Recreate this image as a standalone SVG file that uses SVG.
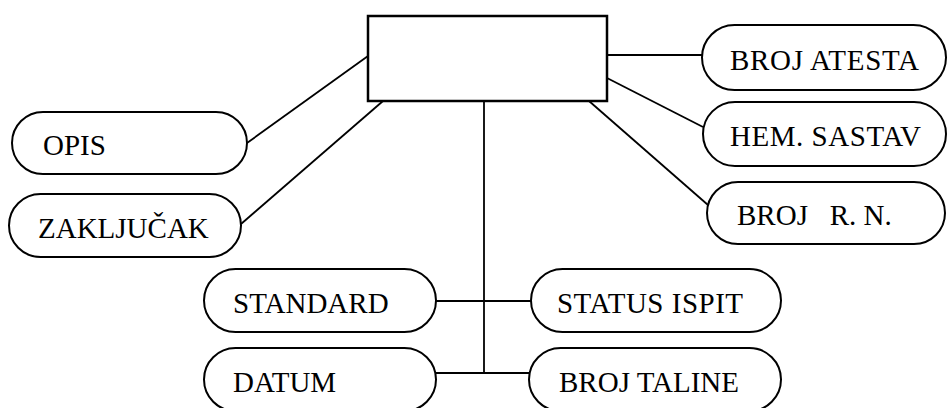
<svg xmlns="http://www.w3.org/2000/svg" width="948" height="408" viewBox="0 0 948 408">
  <style>
    .pill { fill: #ffffff; stroke: #000000; stroke-width: 2; }
    .box { fill: #ffffff; stroke: #000000; stroke-width: 2.5; }
    .link { fill: none; stroke: #000000; stroke-width: 1.8; }
    .label { font-family: "Liberation Serif", "Times New Roman", serif; font-size: 29px; fill: #000000; white-space: pre; }
  </style>
  <rect width="948" height="408" fill="#ffffff"/>

  <!-- connectors -->
  <g id="connectors">
    <line class="link" x1="368" y1="56" x2="247" y2="143"/>
    <line class="link" x1="383" y1="101" x2="241" y2="224"/>
    <line class="link" x1="607" y1="55" x2="702" y2="55"/>
    <line class="link" x1="607" y1="78" x2="703" y2="127"/>
    <line class="link" x1="589" y1="101" x2="708" y2="205"/>
    <line class="link" x1="484" y1="101" x2="484" y2="373"/>
    <line class="link" x1="436" y1="301" x2="532" y2="301"/>
    <line class="link" x1="436" y1="373" x2="530" y2="373"/>
  </g>

  <!-- central entity -->
  <g id="center">
    <rect class="box" x="368" y="16" width="239" height="85"/>
  </g>

  <g id="opis">
    <rect class="pill" x="12" y="112" width="235" height="62" rx="31" ry="31"/>
    <text class="label" x="43" y="155">OPIS</text>
  </g>
  <g id="zakljucak">
    <rect class="pill" x="9" y="194" width="232" height="63" rx="31.5" ry="31.5"/>
    <text class="label" x="38" y="238">ZAKLJUČAK</text>
  </g>

  <g id="broj-atesta">
    <rect class="pill" x="702" y="25" width="244" height="65" rx="32.5" ry="32.5"/>
    <text class="label" x="730" y="70" textLength="189" lengthAdjust="spacing">BROJ ATESTA</text>
  </g>
  <g id="hem-sastav">
    <rect class="pill" x="703" y="102" width="243" height="64" rx="32" ry="32"/>
    <text class="label" x="730" y="146" textLength="191" lengthAdjust="spacing">HEM. SASTAV</text>
  </g>
  <g id="broj-rn">
    <rect class="pill" x="707" y="182" width="238" height="62" rx="31" ry="31"/>
    <text class="label" x="737" y="225">BROJ   R. N.</text>
  </g>

  <g id="standard">
    <rect class="pill" x="204" y="269" width="232" height="63" rx="31.5" ry="31.5"/>
    <text class="label" x="233" y="313">STANDARD</text>
  </g>
  <g id="status-ispit">
    <rect class="pill" x="531" y="269" width="250" height="63" rx="31.5" ry="31.5"/>
    <text class="label" x="557" y="313" textLength="186" lengthAdjust="spacing">STATUS ISPIT</text>
  </g>
  <g id="datum">
    <rect class="pill" x="204" y="348" width="232" height="63" rx="31.5" ry="31.5"/>
    <text class="label" x="233" y="392">DATUM</text>
  </g>
  <g id="broj-taline">
    <rect class="pill" x="529" y="348" width="252" height="63" rx="31.5" ry="31.5"/>
    <text class="label" x="559" y="392">BROJ TALINE</text>
  </g>
</svg>
